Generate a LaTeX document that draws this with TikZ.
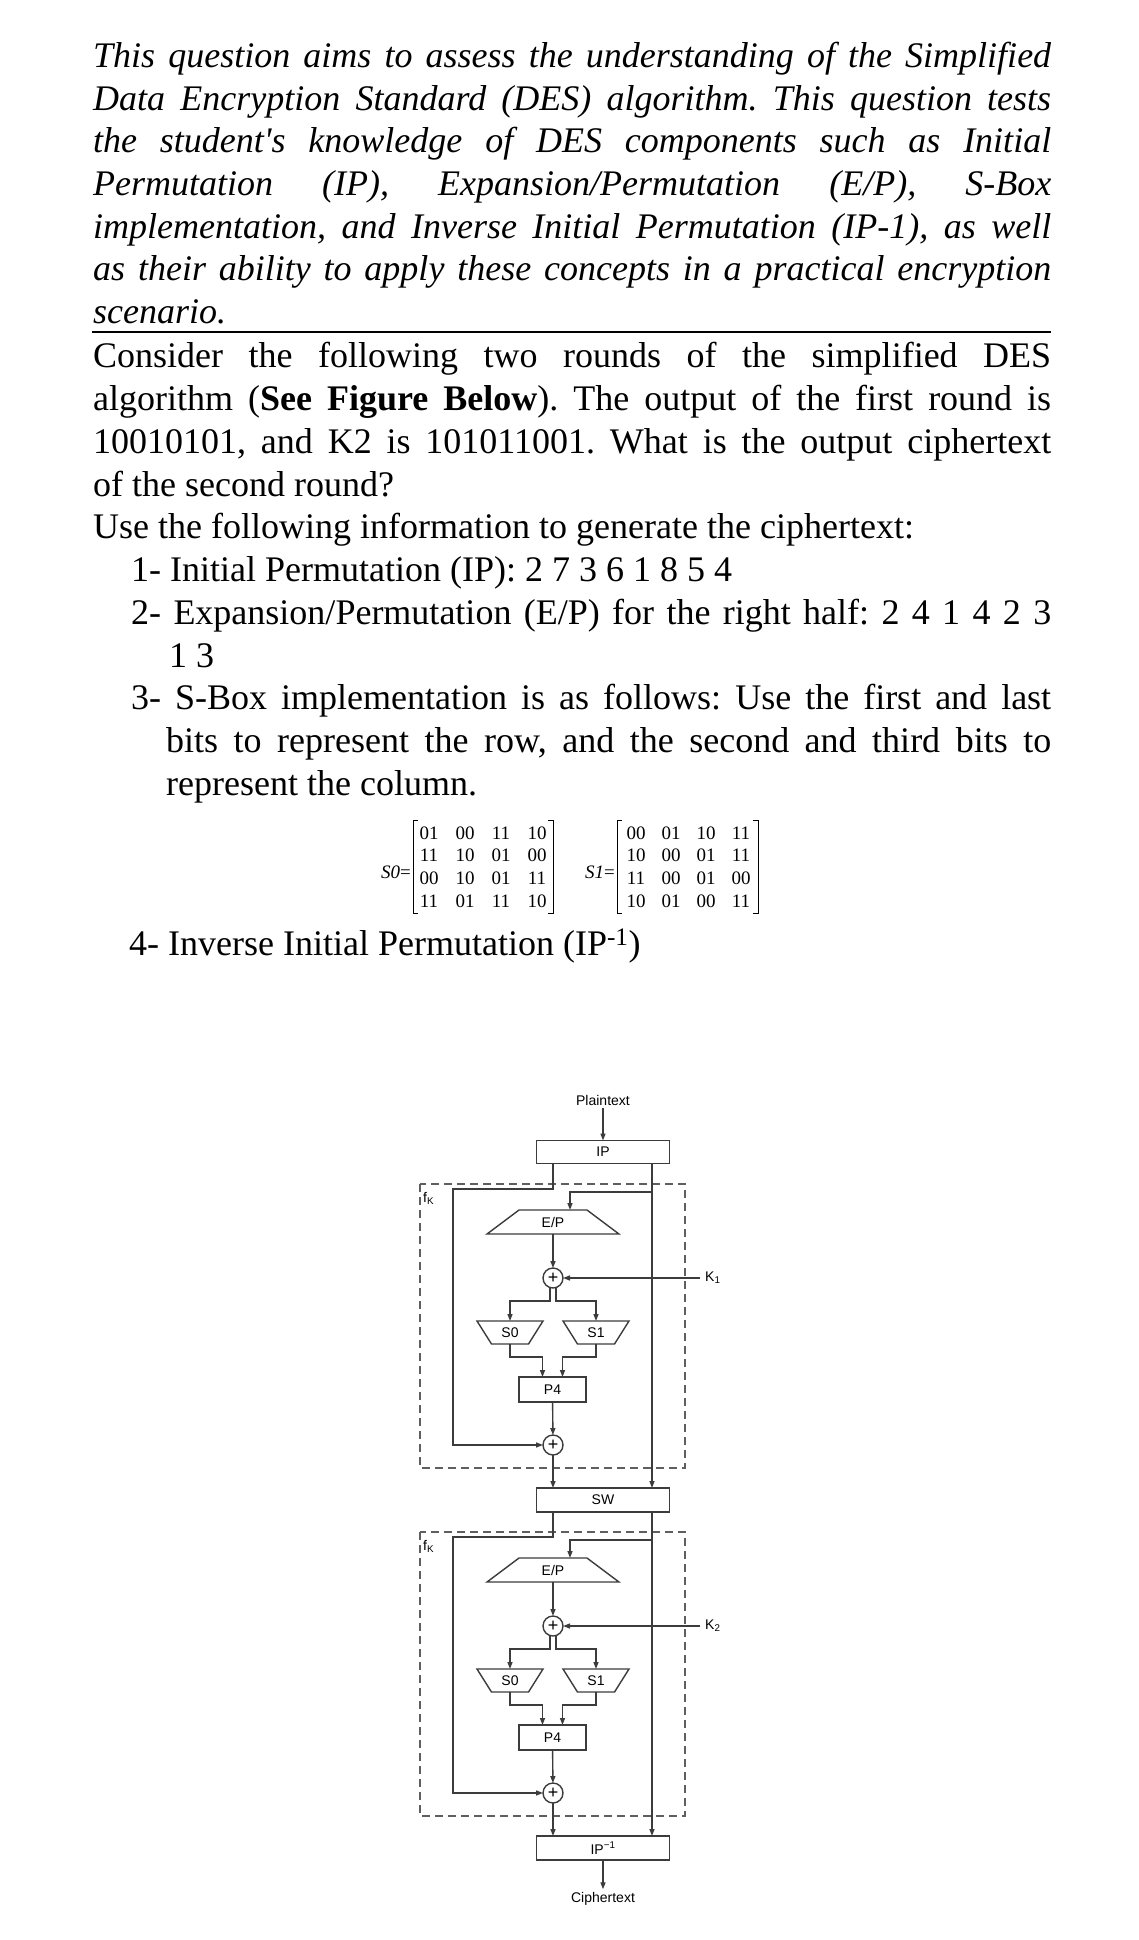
\documentclass[tikz,border=0pt]{standalone}
\usepackage{fontspec}
\setmainfont{Liberation Serif}
\newfontfamily\diagfont{Liberation Sans}
\usetikzlibrary{arrows.meta}
\definecolor{wire}{RGB}{60,60,60}
\definecolor{dashgray}{RGB}{95,95,95}
\frenchspacing
\tikzset{
  body/.style={anchor=base west, inner sep=0pt, font=\fontsize{36}{43}\selectfont},
  intro/.style={body, font=\fontsize{36}{43}\selectfont\itshape},
  cell/.style={inner sep=0pt, font=\fontsize{19}{22}\selectfont},
  lbl/.style={inner sep=0pt, font=\diagfont\fontsize{14}{16}\selectfont},
  wireline/.style={draw=wire, line width=1.4pt},
  arr/.style={wireline, -{Triangle[length=7pt,width=5pt]}},
  blk/.style={lbl, draw=wire, line width=1.4pt, minimum height=23pt, outer sep=0pt},
  slot/.style={lbl, minimum height=24pt, outer sep=0pt},
  xorc/.style={circle, draw=wire, line width=1.4pt, minimum size=20pt, inner sep=0pt, outer sep=0pt, font=\diagfont\fontsize{18}{18}\selectfont},
  fkbox/.style={draw=dashgray, line width=1.5pt, dash pattern=on 8pt off 5pt},
}

\begin{document}
\begin{tikzpicture}[x=1pt, y=-1pt]
\useasboundingbox (0,0) rectangle (1139,1940);
\fill[white] (0,0) rectangle (1139,1940);
% Introduction in italics
\node[intro] (p1) at (93,68) {\makebox[958pt][s]{This question aims to assess the understanding of the Simplified}};
\node[intro] (p2) at (93,110.5) {\makebox[958pt][s]{Data Encryption Standard (DES) algorithm. This question tests}};
\node[intro] (p3) at (93,153) {\makebox[958pt][s]{the student\textquotesingle s knowledge of DES components such as Initial}};
\node[intro] (p4) at (93,195.5) {\makebox[958pt][s]{Permutation (IP), Expansion/Permutation (E/P), S-Box}};
\node[intro] (p5) at (93,238) {\makebox[958pt][s]{implementation, and Inverse Initial Permutation (IP-1), as well}};
\node[intro] (p6) at (93,280.5) {\makebox[958pt][s]{as their ability to apply these concepts in a practical encryption}};
\node[intro] (p7) at (93,323) {scenario.};
\draw[line width=2pt] (92,332) -- (1051,332);
% The question
\node[body] (q1) at (93,367) {\makebox[958pt][s]{Consider the following two rounds of the simplified DES}};
\node[body] (q2) at (93,410) {\makebox[958pt][s]{algorithm (\textbf{See Figure Below}). The output of the first round is}};
\node[body] (q3) at (93,453) {\makebox[958pt][s]{10010101, and K2 is 101011001. What is the output ciphertext}};
\node[body] (q4) at (93,496) {of the second round?};
\node[body] (q5) at (93,538) {Use the following information to generate the ciphertext:};
\node[body] (q6) at (131,581) {1- Initial Permutation (IP): 2 7 3 6 1 8 5 4};
\node[body] (q7) at (131,624) {\makebox[920pt][s]{2- Expansion/Permutation (E/P) for the right half: 2 4 1 4 2 3}};
\node[body] (q8) at (169,667) {1 3};
\node[body] (q9) at (131,709) {\makebox[920pt][s]{3- S-Box implementation is as follows: Use the first and last}};
\node[body] (q10) at (166,752) {\makebox[885pt][s]{bits to represent the row, and the second and third bits to}};
\node[body] (q11) at (166,795) {represent the column.};
% S-boxes
\node[cell, anchor=east] (szlbl) at (411,872) {{\itshape S0}=};
\foreach \row [count=\j] in {{01,00,11,10},{11,10,01,00},{00,10,01,11},{11,01,11,10}}
  \foreach \v [count=\i] in \row
    \node[cell] (sz-\j-\i) at ({429+36*(\i-1)},{833+22.7*(\j-1)}) {\v};
\draw[line width=1pt] (418,820) -- (413,820) -- (413,913) -- (418,913);
\draw[line width=1pt] (548,820) -- (553,820) -- (553,913) -- (548,913);
\node[cell, anchor=east] (solbl) at (615,872) {{\itshape S1}=};
\foreach \row [count=\j] in {{00,01,10,11},{10,00,01,11},{11,00,01,00},{10,01,00,11}}
  \foreach \v [count=\i] in \row
    \node[cell] (so-\j-\i) at ({636+35*(\i-1)},{833+22.7*(\j-1)}) {\v};
\draw[line width=1pt] (622,820) -- (617,820) -- (617,913) -- (622,913);
\draw[line width=1pt] (753,820) -- (758,820) -- (758,913) -- (753,913);
\node[body] (q12) at (129,955) {4- Inverse Initial Permutation (IP\textsuperscript{-1})};
% Two rounds of S-DES
\node[lbl] (plain) at (603,1100) {Plaintext};
\node[blk, minimum width=133pt] (ip) at (603,1152) {IP};
\node[blk, minimum width=133pt, minimum height=24pt] (sw) at (603,1500) {SW};
\node[blk, minimum width=133pt, minimum height=24pt] (ipinv) at (603,1848) {IP\textsuperscript{−1}};
\node[lbl] (cipher) at (603,1899) {Ciphertext};
\draw[arr] ([yshift=-3pt]plain.south) -- (ip.north);
\draw[arr] (ipinv.south) -- ([yshift=3pt]cipher.north);
\foreach \r/\dy/\inbox/\outbox in {1/0/ip/sw,2/348/sw/ipinv} {
\begin{scope}[yshift=-\dy pt]
  \draw[fkbox] (420,1184) rectangle (685,1468);
  \node[lbl, anchor=west] (fk\r) at (423,1198) {f\textsubscript{K}};
  \coordinate (lt\r) at (453,1189);
  \coordinate (tap\r) at (652,1192);
  \node[slot, minimum width=132pt] (ep\r) at (553,1222) {E/P};
  \draw[wireline] ([xshift=32pt]ep\r.north west) -- ([xshift=-32pt]ep\r.north east)
    -- (ep\r.south east) -- (ep\r.south west) -- cycle;
  \node[xorc] (xa\r) at (553,1278) {+};
  \node[lbl, anchor=west, inner xsep=5pt] (kl\r) at (700,1278) {K\textsubscript{\r}};
  \node[slot, minimum width=66pt, minimum height=23pt] (sa\r) at (510,1332.5) {S0};
  \draw[wireline] (sa\r.north west) -- (sa\r.north east)
    -- ([xshift=-14.5pt]sa\r.south east) -- ([xshift=14.5pt]sa\r.south west) -- cycle;
  \node[slot, minimum width=66pt, minimum height=23pt] (sb\r) at (596,1332.5) {S1};
  \draw[wireline] (sb\r.north west) -- (sb\r.north east)
    -- ([xshift=-14.5pt]sb\r.south east) -- ([xshift=14.5pt]sb\r.south west) -- cycle;
  \node[blk, minimum width=67pt, minimum height=25pt] (pf\r) at (552.5,1389.5) {P4};
  \node[xorc] (xb\r) at (553,1445) {+};
  % wires
  \draw[arr] (\inbox.south -| ep\r) |- (lt\r) |- (xb\r);
  \draw[arr] ([xshift=49pt]\inbox.south) -- ([xshift=49pt]\outbox.north);
  \draw[arr] (tap\r) -| ([xshift=17pt]ep\r.north);
  \draw[arr] (ep\r) -- (xa\r);
  \draw[arr] (kl\r.west) -- (xa\r);
  \draw[arr] ([xshift=-3pt]xa\r.south) -- ++(0,13) -| (sa\r);
  \draw[arr] ([xshift=3pt]xa\r.south) -- ++(0,13) -| (sb\r);
  \draw[arr] (sa\r.south) -- ++(0,13) -| ([xshift=-10pt]pf\r.north);
  \draw[arr] (sb\r.south) -- ++(0,13) -| ([xshift=10pt]pf\r.north);
  \draw[arr] (pf\r) -- (xb\r);
  \draw[arr] (xb\r) -- (\outbox.north -| xb\r);
\end{scope}
}
\end{tikzpicture}
\end{document}
